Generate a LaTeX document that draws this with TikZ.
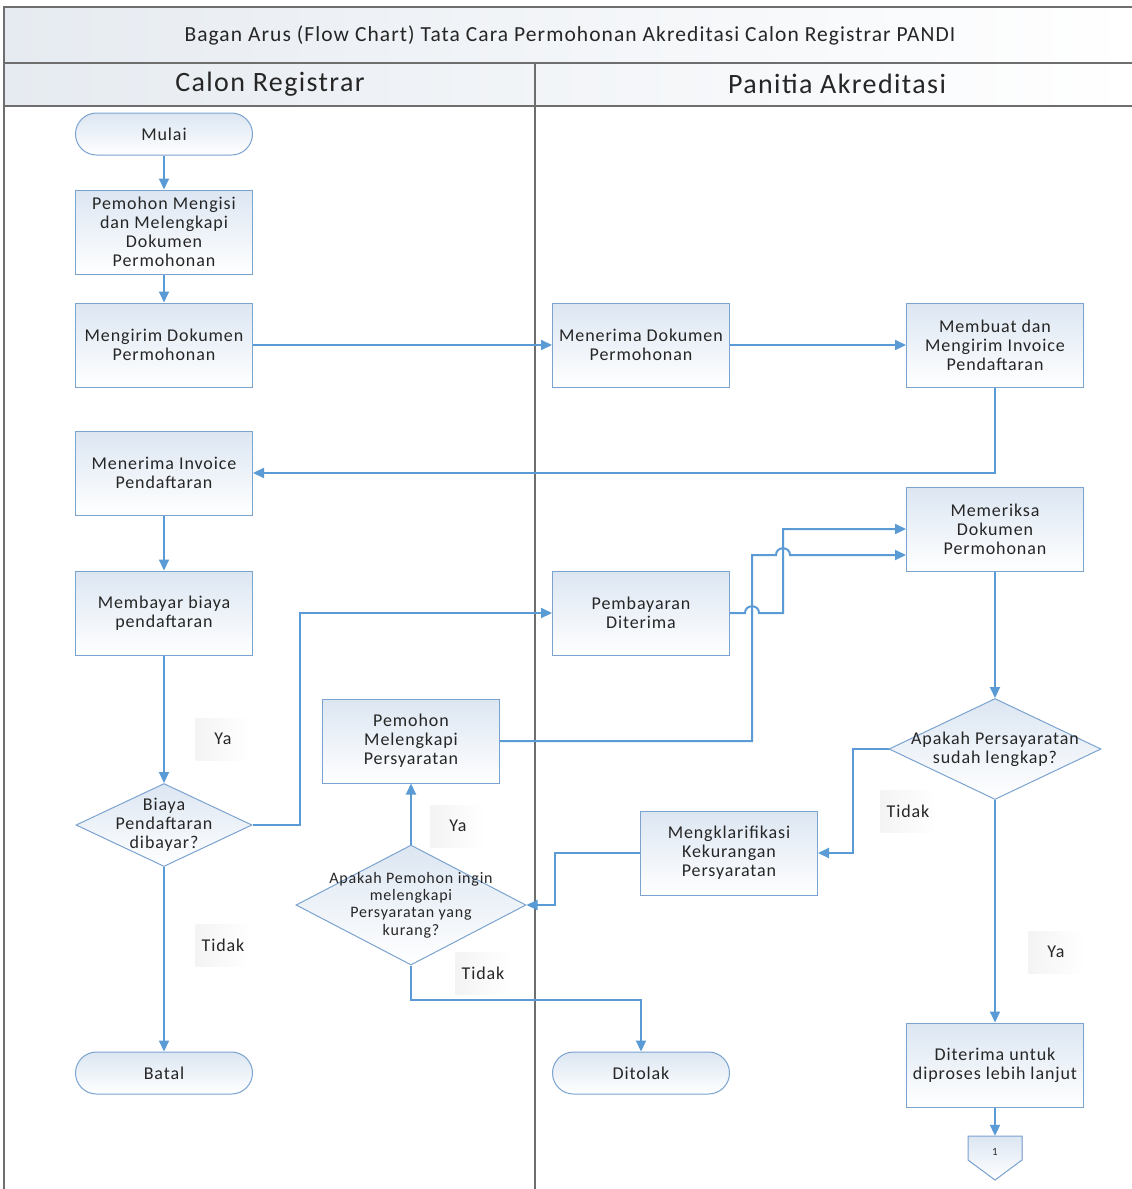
\documentclass[tikz,border=0pt]{standalone}
\usepackage{fontspec}
\setmainfont{Carlito}[LetterSpace=5]
\usetikzlibrary{arrows.meta,shapes.geometric}
\definecolor{flowline}{HTML}{5B9BD5}
\definecolor{boxline}{HTML}{7BA3CF}
\definecolor{boxtint}{HTML}{DCE6F2}
\definecolor{laneline}{HTML}{6E6E6E}
\definecolor{headtint}{HTML}{E6EBF1}
\definecolor{inktext}{HTML}{262626}

\begin{document}
\begin{tikzpicture}[x=1pt,y=-1pt,
  every node/.style={text=inktext},
  lane/.style={draw=laneline, line width=2.5pt},
  process/.style={rectangle, draw=boxline, line width=1pt, top color=boxtint, bottom color=white,
    minimum width=177pt, minimum height=84pt, align=center, font=\fontsize{18}{19}\selectfont},
  terminal/.style={process, rounded corners=21pt, minimum height=42pt},
  decision/.style={diamond, draw=boxline, line width=1pt, top color=boxtint, bottom color=white, inner sep=0pt},
  answer/.style={left color=gray!9, right color=white, minimum width=55pt, minimum height=42pt,
    font=\fontsize{18}{19}\selectfont},
  flow/.style={draw=flowline, line width=2pt, -{Triangle[length=11pt,width=10pt]}}]
\clip (0,0) rectangle (1132,1189);
\fill[white] (0,0) rectangle (1132,1189);

% swimlanes
\draw[lane, left color=headtint, right color=white] (4,7) rectangle (1137,63);
\draw[lane, left color=headtint, right color=white] (4,63) rectangle (1137,106);
\draw[lane] (4,106) -- (4,1200);
\draw[lane] (535,63) -- (535,1200);
\node (judul) at (570,35) {\fontsize{21.5}{24}\selectfont Bagan Arus (Flow Chart) Tata Cara Permohonan Akreditasi Calon Registrar PANDI};
\node (calon) at (270,84) {\fontsize{28}{32}\selectfont Calon Registrar};
\node (panitia) at (837,84) {\fontsize{28}{32}\selectfont Panitia Akreditasi};

% langkah
\node [terminal] (mulai) at (164,134) {Mulai};
\node [process] (isi) at (164,232) {Pemohon Mengisi\\dan Melengkapi\\Dokumen\\Permohonan};
\node [process] (kirim) at (164,345) {Mengirim Dokumen\\Permohonan};
\node [process] (terima) at (641,345) {Menerima Dokumen\\Permohonan};
\node [process] (invoice) at (995,345) {Membuat dan\\Mengirim Invoice\\Pendaftaran};
\node [process] (terimainv) at (164,473) {Menerima Invoice\\Pendaftaran};
\node [process] (periksa) at (995,529) {Memeriksa\\Dokumen\\Permohonan};
\node [process] (bayar) at (164,613) {Membayar biaya\\pendaftaran};
\node [process] (diterima) at (641,613) {Pembayaran\\Diterima};
\node [process] (lengkapi) at (411,741) {Pemohon\\Melengkapi\\Persyaratan};
\node [decision, minimum width=212pt, minimum height=101pt,
  label={[align=center, font=\fontsize{18}{19}\selectfont]center:Apakah Persayaratan\\sudah lengkap?}] (cek) at (995,749) {};
\node [decision, minimum width=176pt, minimum height=83pt,
  label={[align=center, font=\fontsize{18}{19}\selectfont]center:Biaya\\Pendaftaran\\dibayar?}] (biaya) at (164,825) {};
\node [process] (klarifikasi) at (729,853) {Mengklarifikasi\\Kekurangan\\Persyaratan};
\node [decision, minimum width=230pt, minimum height=120pt,
  label={[align=center, font=\fontsize{16}{17.3}\selectfont]center:Apakah Pemohon ingin\\melengkapi\\Persyaratan yang\\kurang?}] (ingin) at (411,905) {};
\node [terminal] (batal) at (164,1073) {Batal};
\node [terminal] (ditolak) at (641,1073) {Ditolak};
\node [process] (lanjut) at (995,1065) {Diterima untuk\\diproses lebih lanjut};
\filldraw [draw=boxline, line width=1pt, top color=boxtint, bottom color=white]
  (968,1136) -- (1022,1136) -- (1022,1160) -- (995,1180) -- (968,1160) -- cycle;
\node [minimum width=54pt, minimum height=32pt, font=\fontsize{11}{11}\selectfont] (konektor) at (995,1152) {1};

% jawaban
\node [answer] (ya1) at (223,739) {Ya};
\node [answer] (tidak1) at (223,945) {Tidak};
\node [answer] (ya2) at (458,826) {Ya};
\node [answer] (tidak2) at (483,973) {Tidak};
\node [answer] (tidak3) at (908,811) {Tidak};
\node [answer] (ya3) at (1056,952) {Ya};

% alur
\draw[flow] (mulai) -- (isi);
\draw[flow] (isi) -- (kirim);
\draw[flow] (kirim) -- (terima);
\draw[flow] (terima) -- (invoice);
\draw[flow] (invoice) |- (terimainv);
\draw[flow] (terimainv) -- (bayar);
\draw[flow] (bayar) -- (biaya);
\draw[flow] (biaya.east) -- (300,825) |- (diterima.west);
\draw[flow] (diterima.east) -- (745,613) .. controls (745,604) and (759,604) .. (759,613)
  -- (783,613) -- (783,529) -- (periksa.west);
\draw[flow] (lengkapi.east) -- (752,741) -- (752,555) -- (776,555)
  .. controls (776,546) and (790,546) .. (790,555) -- ([yshift=-26pt]periksa.west);
\draw[flow] (periksa) -- (cek);
\draw[flow] (cek.west) -- (853,749) |- (klarifikasi.east);
\draw[flow] (cek) -- (lanjut);
\draw[flow] (klarifikasi.west) -- (555,853) |- (ingin.east);
\draw[flow] (ingin) -- (lengkapi);
\draw[flow] (ingin.south) -- (411,1000) -| (ditolak);
\draw[flow] (biaya) -- (batal);
\draw[flow] (lanjut) -- (konektor);
\end{tikzpicture}
\end{document}
